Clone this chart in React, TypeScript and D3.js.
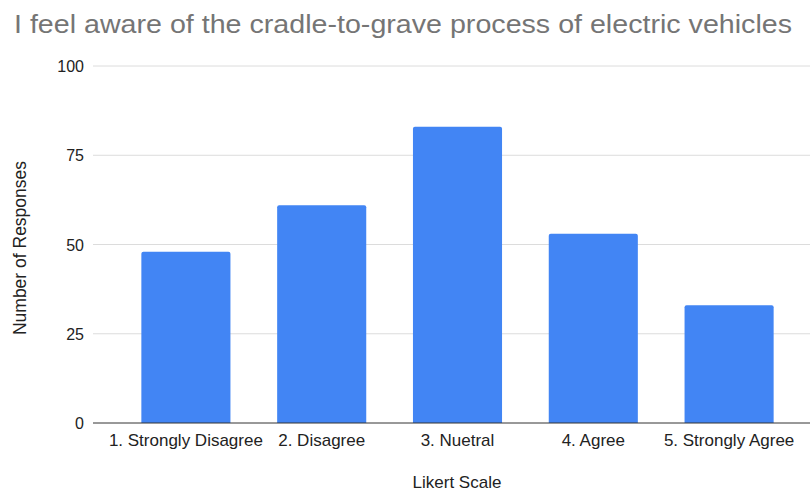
import React, { useEffect, useRef } from 'react';
import * as d3 from 'd3';

const categories = ['1. Strongly Disagree', '2. Disagree', '3. Nuetral', '4. Agree', '5. Strongly Agree'];
const responses = [48, 61, 83, 53, 33];
const yTicks = [0, 25, 50, 75, 100];

const W = 811;
const H = 492;

const App = () => {
  const ref = useRef<SVGSVGElement>(null);

  useEffect(() => {
    const svg = d3.select(ref.current);
    svg.selectAll('*').remove();

    const font = '"Liberation Sans", Arial, sans-serif';

    const x = d3.scaleBand().domain(categories).range([118, 797]).paddingInner(0.344).paddingOuter(0.172);
    const y = d3.scaleLinear().domain([0, 100]).range([423, 66]);

    // title
    svg
      .append('text')
      .attr('x', 14)
      .attr('y', 33)
      .attr('font-family', font)
      .attr('font-size', 26)
      .attr('fill', '#757575')
      .attr('textLength', 778)
      .attr('lengthAdjust', 'spacingAndGlyphs')
      .text('I feel aware of the cradle-to-grave process of electric vehicles');

    // gridlines
    svg
      .append('g')
      .selectAll('line')
      .data(yTicks.filter((t) => t > 0))
      .enter()
      .append('line')
      .attr('x1', 93)
      .attr('x2', 810)
      .attr('y1', (d) => y(d))
      .attr('y2', (d) => y(d))
      .attr('stroke', '#dcdcdc')
      .attr('stroke-width', 1);

    // y tick labels
    svg
      .append('g')
      .selectAll('text')
      .data(yTicks)
      .enter()
      .append('text')
      .attr('x', 84)
      .attr('y', (d) => y(d) + 6)
      .attr('text-anchor', 'end')
      .attr('font-family', font)
      .attr('font-size', 16)
      .attr('fill', '#222')
      .text((d) => d);

    // bars
    const bw = x.bandwidth();
    svg
      .append('g')
      .selectAll('path')
      .data(responses)
      .enter()
      .append('path')
      .attr('d', (d, i) => {
        const x0 = x(categories[i])!;
        const top = y(d);
        const bottom = y(0);
        const r = 2;
        return `M${x0},${bottom}V${top + r}Q${x0},${top} ${x0 + r},${top}H${x0 + bw - r}Q${x0 + bw},${top} ${x0 + bw},${top + r}V${bottom}Z`;
      })
      .attr('fill', '#4285f4');

    // baseline
    svg
      .append('line')
      .attr('x1', 93)
      .attr('x2', 810)
      .attr('y1', y(0))
      .attr('y2', y(0))
      .attr('stroke', '#333')
      .attr('stroke-width', 1);

    // x tick labels
    svg
      .append('g')
      .selectAll('text')
      .data(categories)
      .enter()
      .append('text')
      .attr('x', (d) => x(d)! + bw / 2)
      .attr('y', 446)
      .attr('text-anchor', 'middle')
      .attr('font-family', font)
      .attr('font-size', 17)
      .attr('fill', '#222')
      .text((d) => d);

    // axis titles
    svg
      .append('text')
      .attr('x', 457)
      .attr('y', 488)
      .attr('text-anchor', 'middle')
      .attr('font-family', font)
      .attr('font-size', 17)
      .attr('fill', '#222')
      .text('Likert Scale');

    svg
      .append('text')
      .attr('transform', 'translate(26, 248) rotate(-90)')
      .attr('text-anchor', 'middle')
      .attr('font-family', font)
      .attr('font-size', 17.5)
      .attr('fill', '#222')
      .text('Number of Responses');
  }, []);

  return (
    <svg
      ref={ref}
      width={W}
      height={H}
      style={{ position: 'absolute', left: 0, top: 0, background: '#fff' }}
    />
  );
};

export default App;
